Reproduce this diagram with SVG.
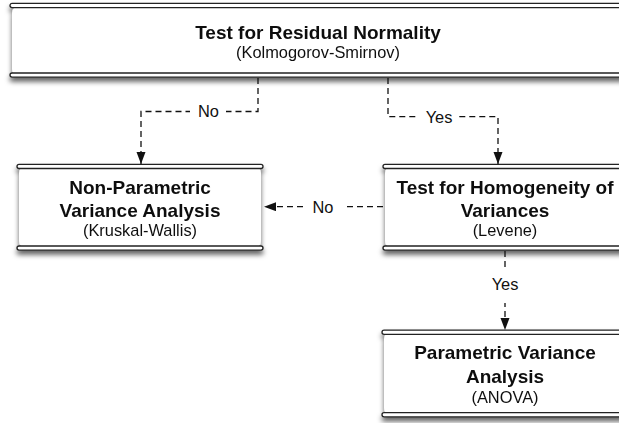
<svg xmlns="http://www.w3.org/2000/svg" width="619" height="423" viewBox="0 0 619 423">
  <style>
    .body { fill: #ffffff; }
    .bar { fill: #ffffff; stroke: #222222; stroke-width: 1.3; }
    .title { font-family: "Liberation Sans", Arial, sans-serif; font-size: 19px; font-weight: bold; fill: #111111; text-anchor: middle; }
    .sub { font-family: "Liberation Sans", Arial, sans-serif; font-size: 16.4px; fill: #111111; text-anchor: middle; }
    .edge { fill: none; stroke: #111111; stroke-width: 1.3; stroke-dasharray: 6 4; }
    .lbl-bg { fill: #ffffff; }
    .lbl { font-family: "Liberation Sans", Arial, sans-serif; font-size: 16.4px; fill: #111111; text-anchor: middle; }
  </style>
  <defs>
    <filter id="shadow" x="-10%" y="-20%" width="120%" height="150%">
      <feDropShadow dx="0" dy="4" stdDeviation="2.5" flood-color="#000000" flood-opacity="0.6"/>
    </filter>
    <marker id="arrow" markerUnits="userSpaceOnUse" markerWidth="12" markerHeight="10" refX="12" refY="4.5" orient="auto">
      <path d="M0,0 L12,4.5 L0,9 z" fill="#111111"/>
    </marker>
  </defs>

  <rect width="619" height="423" fill="#ffffff"/>

  <!-- scroll-shaped process boxes -->
  <g id="node-normality" filter="url(#shadow)">
    <rect class="body" x="12" y="6" width="612" height="70" rx="7"/>
    <rect class="bar" x="10" y="3.4" width="616" height="4.2" rx="2.1"/>
    <rect class="bar" x="10" y="73" width="616" height="4.2" rx="2.1"/>
    <text class="title" x="318" y="39">Test for Residual Normality</text>
    <text class="sub" x="318" y="58">(Kolmogorov-Smirnov)</text>
  </g>

  <g id="node-kruskal" filter="url(#shadow)">
    <rect class="body" x="19" y="166" width="242" height="82" rx="7"/>
    <rect class="bar" x="17" y="164.3" width="246" height="4.2" rx="2.1"/>
    <rect class="bar" x="17" y="246" width="246" height="4.2" rx="2.1"/>
    <text class="title" x="140" y="194">Non-Parametric</text>
    <text class="title" x="140" y="217">Variance Analysis</text>
    <text class="sub" x="140" y="236">(Kruskal-Wallis)</text>
  </g>

  <g id="node-levene" filter="url(#shadow)">
    <rect class="body" x="385" y="166" width="240" height="82" rx="7"/>
    <rect class="bar" x="383" y="164.3" width="244" height="4.2" rx="2.1"/>
    <rect class="bar" x="383" y="246" width="244" height="4.2" rx="2.1"/>
    <text class="title" x="505" y="194">Test for Homogeneity of</text>
    <text class="title" x="505" y="217">Variances</text>
    <text class="sub" x="505" y="236">(Levene)</text>
  </g>

  <g id="node-anova" filter="url(#shadow)">
    <rect class="body" x="384" y="332" width="242" height="83" rx="7"/>
    <rect class="bar" x="382" y="330.2" width="246" height="4.2" rx="2.1"/>
    <rect class="bar" x="382" y="412.7" width="246" height="4.2" rx="2.1"/>
    <text class="title" x="505" y="359">Parametric Variance</text>
    <text class="title" x="505" y="383">Analysis</text>
    <text class="sub" x="505" y="403">(ANOVA)</text>
  </g>

  <!-- dashed decision connectors -->
  <g id="connectors">
    <path class="edge" d="M258,78 V111.5 H141 V164" marker-end="url(#arrow)"/>
    <rect class="lbl-bg" x="190" y="103" width="36" height="18"/>
    <text class="lbl" x="208.5" y="117.3">No</text>

    <path class="edge" d="M388,78 V116.7 H498 V164" marker-end="url(#arrow)"/>
    <rect class="lbl-bg" x="418" y="108" width="40" height="18"/>
    <text class="lbl" x="439" y="122.7">Yes</text>

    <path class="edge" d="M383,206.7 H264" marker-end="url(#arrow)"/>
    <rect class="lbl-bg" x="305" y="198" width="38" height="18"/>
    <text class="lbl" x="323" y="212.5">No</text>

    <path class="edge" d="M505,251 V330" marker-end="url(#arrow)"/>
    <rect class="lbl-bg" x="488" y="270" width="34" height="33"/>
    <text class="lbl" x="505" y="290">Yes</text>
  </g>
</svg>
